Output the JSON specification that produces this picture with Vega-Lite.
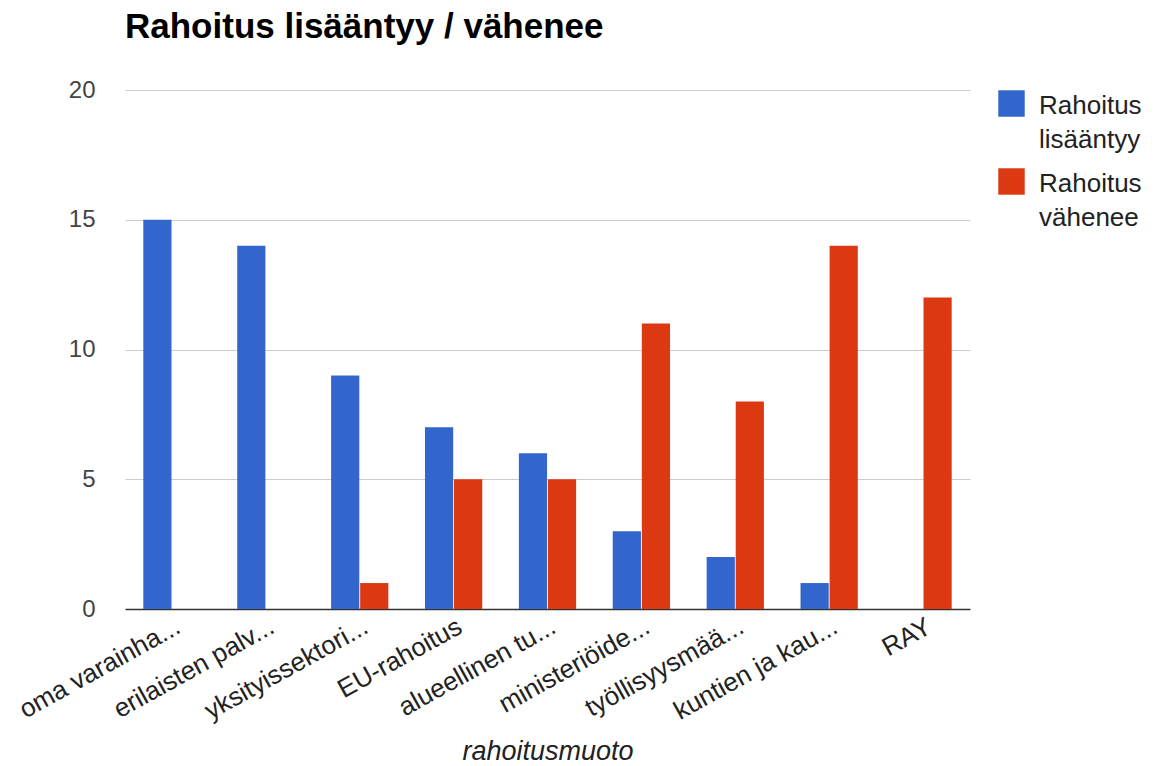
{
  "$schema": "https://vega.github.io/schema/vega-lite/v6.json",
  "width": 845,
  "height": 519,
  "autosize": {"type": "none"},
  "padding": {"left": 125, "top": 90, "right": 187, "bottom": 157},
  "background": "white",
  "title": {
    "text": "Rahoitus lisääntyy / vähenee",
    "anchor": "start",
    "frame": "group",
    "font": "Liberation Sans",
    "fontSize": 35,
    "fontWeight": "bold",
    "color": "#000000",
    "offset": 33
  },
  "data": {
    "values": [
      {"cat": "oma varainha...", "series": "Rahoitus lisääntyy", "value": 15},
      {"cat": "oma varainha...", "series": "Rahoitus vähenee", "value": 0},
      {"cat": "erilaisten palv...", "series": "Rahoitus lisääntyy", "value": 14},
      {"cat": "erilaisten palv...", "series": "Rahoitus vähenee", "value": 0},
      {"cat": "yksityissektori...", "series": "Rahoitus lisääntyy", "value": 9},
      {"cat": "yksityissektori...", "series": "Rahoitus vähenee", "value": 1},
      {"cat": "EU-rahoitus", "series": "Rahoitus lisääntyy", "value": 7},
      {"cat": "EU-rahoitus", "series": "Rahoitus vähenee", "value": 5},
      {"cat": "alueellinen tu...", "series": "Rahoitus lisääntyy", "value": 6},
      {"cat": "alueellinen tu...", "series": "Rahoitus vähenee", "value": 5},
      {"cat": "ministeriöide...", "series": "Rahoitus lisääntyy", "value": 3},
      {"cat": "ministeriöide...", "series": "Rahoitus vähenee", "value": 11},
      {"cat": "työllisyysmää...", "series": "Rahoitus lisääntyy", "value": 2},
      {"cat": "työllisyysmää...", "series": "Rahoitus vähenee", "value": 8},
      {"cat": "kuntien ja kau...", "series": "Rahoitus lisääntyy", "value": 1},
      {"cat": "kuntien ja kau...", "series": "Rahoitus vähenee", "value": 14},
      {"cat": "RAY", "series": "Rahoitus lisääntyy", "value": 0},
      {"cat": "RAY", "series": "Rahoitus vähenee", "value": 12}
    ]
  },
  "mark": {"type": "bar"},
  "encoding": {
    "x": {
      "field": "cat",
      "type": "nominal",
      "sort": null,
      "scale": {"paddingInner": 0.39, "paddingOuter": 0.195},
      "axis": {
        "title": "rahoitusmuoto",
        "titleFont": "Liberation Sans",
        "titleFontSize": 27,
        "titleFontStyle": "italic",
        "titleFontWeight": "normal",
        "titleColor": "#222222",
        "titlePadding": 14,
        "labelFont": "Liberation Sans",
        "labelFontSize": 26,
        "labelColor": "#222222",
        "labelAngle": -29,
        "labelAlign": "right",
        "labelBaseline": "top",
        "labelPadding": 4,
        "labelLimit": 300,
        "labelOverlap": false,
        "ticks": false,
        "domainColor": "#333333",
        "domainWidth": 1.5
      }
    },
    "xOffset": {
      "field": "series",
      "type": "nominal",
      "scale": {"paddingInner": 0.03}
    },
    "y": {
      "field": "value",
      "type": "quantitative",
      "scale": {"domain": [0, 20]},
      "axis": {
        "title": null,
        "values": [0, 5, 10, 15, 20],
        "labelFont": "Liberation Sans",
        "labelFontSize": 24,
        "labelColor": "#444444",
        "labelPadding": 30,
        "ticks": false,
        "domain": false,
        "gridColor": "#cccccc"
      }
    },
    "color": {
      "field": "series",
      "type": "nominal",
      "scale": {"domain": ["Rahoitus lisääntyy", "Rahoitus vähenee"], "range": ["#3366cc", "#dc3912"]},
      "legend": {
        "title": null,
        "orient": "none",
        "legendX": 873,
        "legendY": 0,
        "padding": 0,
        "symbolType": "square",
        "symbolSize": 700,
        "symbolStrokeWidth": 0,
        "symbolOpacity": 1,
        "labelFont": "Liberation Sans",
        "labelFontSize": 26,
        "labelColor": "#222222",
        "labelOffset": 14,
        "labelLimit": 200,
        "labelBaseline": "alphabetic",
        "labelExpr": "split(datum.label, ' ')",
        "rowPadding": 15,
        "encode": {
          "labels": {"update": {"lineHeight": {"value": 34}, "dy": {"value": 10}}}
        }
      }
    }
  },
  "config": {"view": {"stroke": null}}
}
